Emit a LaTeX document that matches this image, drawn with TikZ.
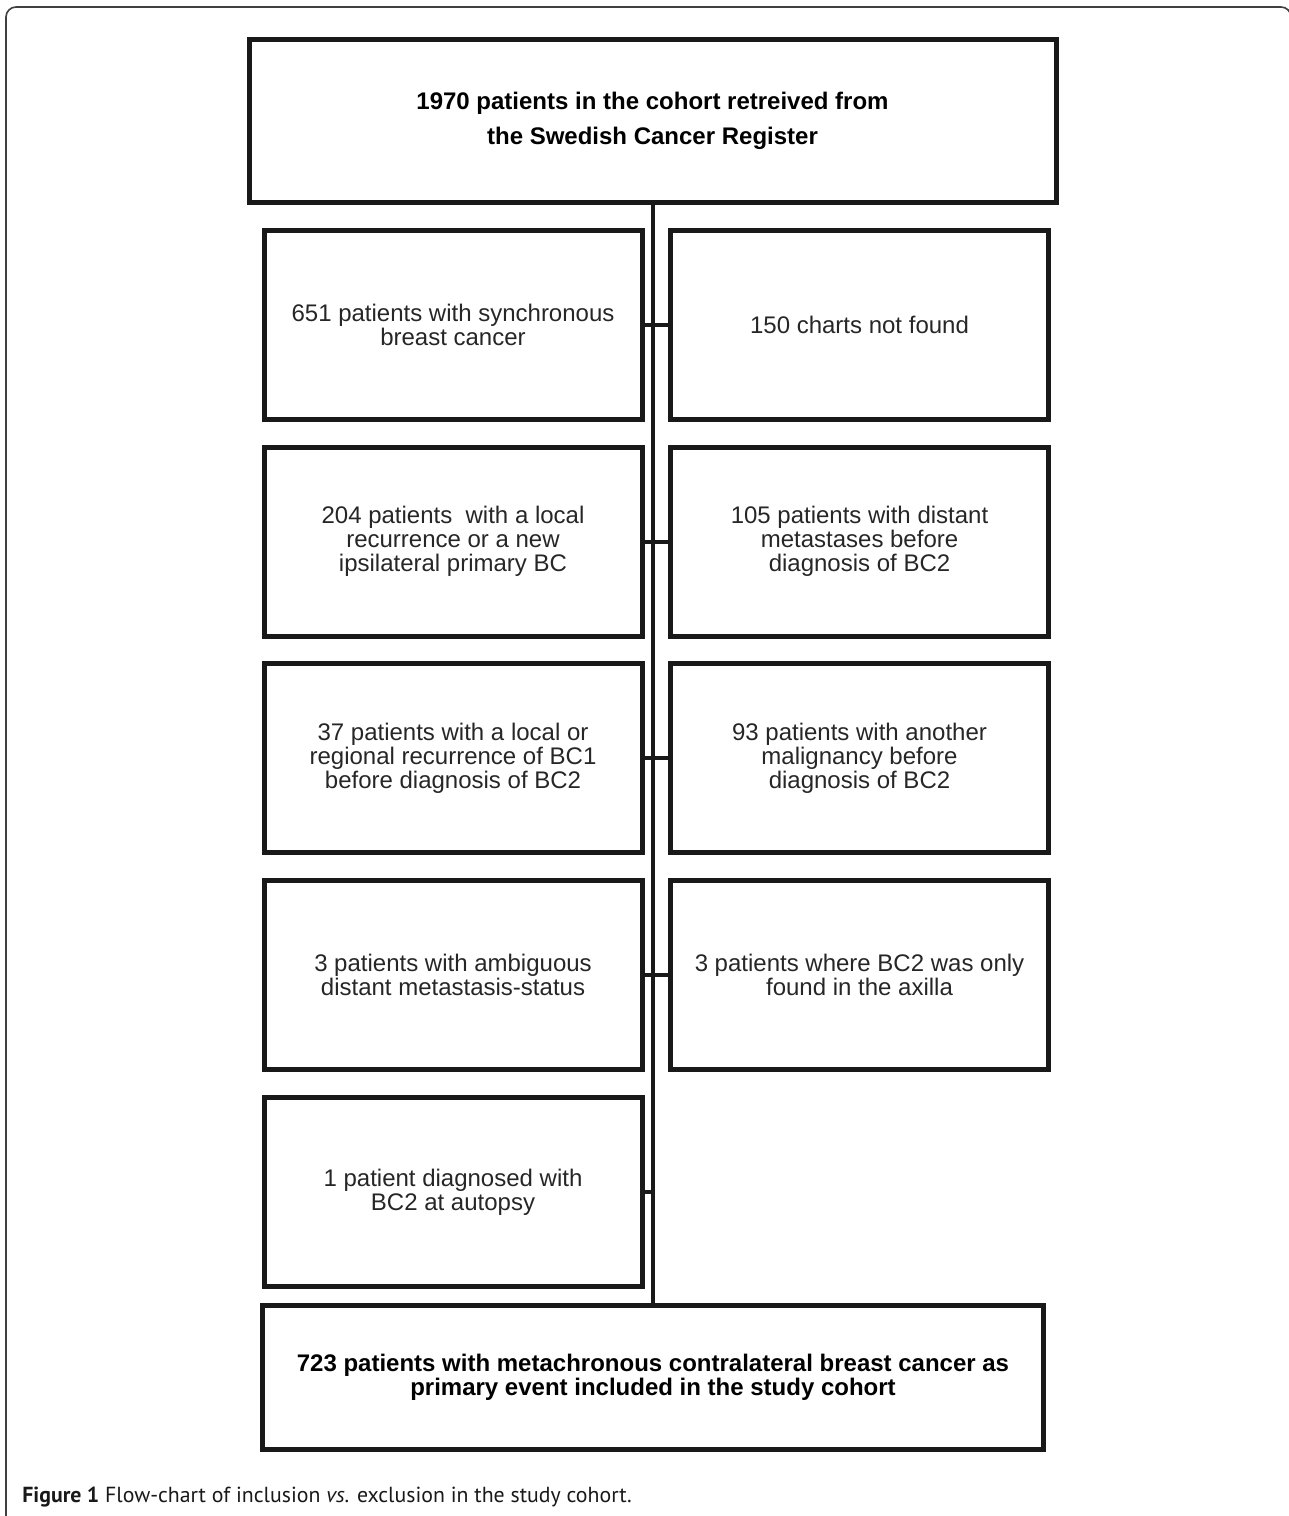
\documentclass[tikz,border=0pt]{standalone}
\usepackage{fontspec}
\setmainfont{Liberation Sans}
\newfontfamily\capfont{PT Sans}
\begin{document}
\begin{tikzpicture}[x=0.5pt,y=-0.5pt,
    box/.style={draw=black!90, line width=2.5pt, outer sep=0pt, inner sep=0pt,
      align=center, text=black!85, font=\fontsize{12}{12}\selectfont},
    topbox/.style={box, minimum width=403.5pt, minimum height=81.5pt,
      text=black, font=\bfseries\fontsize{12}{17.5}\selectfont},
    endbox/.style={box, minimum width=390.5pt, minimum height=72pt,
      text=black, font=\bfseries\fontsize{12}{12}\selectfont},
    sidebox/.style={box, minimum width=189pt, minimum height=94.5pt},
    link/.style={draw=black!90, line width=2pt}]
    \useasboundingbox (0,0) rectangle (1289,1516);
    % frame round the figure
    \draw[black!75, line width=0.8pt, rounded corners=5pt] (6,1520) -- (6,7) -- (1291,7) -- (1291,1520);
    \node[topbox] (cohort) at (652.5,121) {1970 patients in the cohort retreived from\\the Swedish Cancer Register};
    \node[sidebox] (L1) at (453,325) {651 patients with synchronous\\breast cancer};
    \node[sidebox] (R1) at (859.5,325) {150 charts not found};
    \node[sidebox] (L2) at (453,541.5) {204 patients\ \ with a local\\recurrence or a new\\ipsilateral primary BC};
    \node[sidebox] (R2) at (859.5,541.5) {105 patients with distant\\metastases before\\diagnosis of BC2};
    \node[sidebox] (L3) at (453,758) {37 patients with a local or\\regional recurrence of BC1\\before diagnosis of BC2};
    \node[sidebox] (R3) at (859.5,758) {93 patients with another\\malignancy before\\diagnosis of BC2};
    \node[sidebox] (L4) at (453,975) {3 patients with ambiguous\\distant metastasis-status};
    \node[sidebox] (R4) at (859.5,975) {3 patients where BC2 was only\\found in the axilla};
    \node[sidebox] (L5) at (453,1192) {1 patient diagnosed with\\BC2 at autopsy};
    \node[endbox] (final) at (653,1377.5) {723 patients with metachronous contralateral breast cancer as\\primary event included in the study cohort};
    \draw[link] (cohort.south) -- (cohort.south |- final.north);
    \draw[link] (L1.east) -- (R1.west);
    \draw[link] (L2.east) -- (R2.west);
    \draw[link] (L3.east) -- (R3.west);
    \draw[link] (L4.east) -- (R4.west);
    \draw[link] (L5.east) -- (L5.east -| cohort.south);
    \node[anchor=west, inner sep=0pt, text=black!90, font=\capfont\fontsize{10.9}{12}\selectfont] (caption) at (22,1497)
      {\textbf{Figure 1} Flow-chart of inclusion \textit{vs.} exclusion in the study cohort.};
\end{tikzpicture}
\end{document}
